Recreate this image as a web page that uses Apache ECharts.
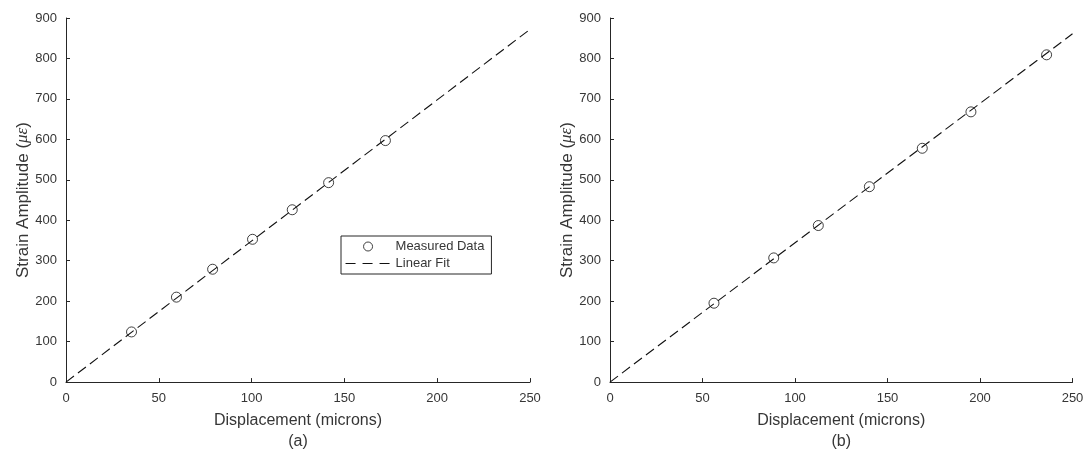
<!DOCTYPE html>
<html>
<head>
<meta charset="utf-8">
<script src="https://cdn.jsdelivr.net/npm/echarts@6/dist/echarts.min.js"></script>
<style>html,body{margin:0;padding:0;background:#fff}#c{width:1088px;height:457px}</style>
</head>
<body>
<div id="c"></div>
<script>
// Panel (a)
const measA_x = [35.3, 59.5, 79.0, 100.5, 121.9, 141.5, 172.1];
const measA_y = [124, 210, 279, 353, 426, 493, 597];
const fitA_x = [0, 250];
const fitA_y = [0, 872];
// Panel (b)
const measB_x = [56.2, 88.5, 112.6, 140.2, 168.8, 195.1, 236.0];
const measB_y = [195, 307, 387, 483, 578, 668, 809];
const fitB_x = [0, 250];
const fitB_y = [0, 861];
// Axis settings
const xTicks = [0, 50, 100, 150, 200, 250];
const yTicks = [0, 100, 200, 300, 400, 500, 600, 700, 800, 900];
const xTitle = 'Displacement (microns)';
const panelLabels = ['(a)', '(b)'];
const legendNames = ['Measured Data', 'Linear Fit'];

const zip = (a, b) => a.map((v, i) => [v, b[i]]);
const FONT = 'Liberation Sans, Arial, sans-serif';
const TXT = '#363636';
const AX = '#262626';

function xAxisFor(i) {
  return {
    type: 'value', gridIndex: i, min: xTicks[0], max: xTicks[xTicks.length - 1], interval: xTicks[1] - xTicks[0],
    name: xTitle + '\n{p|' + panelLabels[i] + '}',
    nameLocation: 'middle', nameGap: 26,
    nameTextStyle: { fontFamily: FONT, fontSize: 16, color: TXT, lineHeight: 21,
      rich: { p: { fontFamily: FONT, fontSize: 16, color: TXT, lineHeight: 21 } } },
    axisLine: { show: true, onZero: false, lineStyle: { color: AX, width: 1 } },
    axisTick: { show: true, inside: true, length: 4, lineStyle: { color: AX } },
    axisLabel: { fontFamily: FONT, fontSize: 13, color: TXT, margin: 10 },
    splitLine: { show: false }
  };
}
function yAxisFor(i) {
  return {
    type: 'value', gridIndex: i, min: yTicks[0], max: yTicks[yTicks.length - 1], interval: yTicks[1] - yTicks[0],
    name: 'Strain Amplitude ({m|με})',
    nameLocation: 'middle', nameGap: 34,
    nameTextStyle: { fontFamily: FONT, fontSize: 17, color: TXT,
      rich: { m: { fontFamily: 'Liberation Serif, DejaVu Serif, serif', fontStyle: 'italic', fontSize: 17, color: TXT } } },
    axisLine: { show: true, onZero: false, lineStyle: { color: AX, width: 1 } },
    axisTick: { show: true, inside: true, length: 4, lineStyle: { color: AX } },
    axisLabel: { fontFamily: FONT, fontSize: 13, color: TXT, margin: 9 },
    splitLine: { show: false }
  };
}
function scatter(i, xs, ys, withName) {
  return {
    type: 'scatter', name: withName ? legendNames[0] : 'm' + i, xAxisIndex: i, yAxisIndex: i,
    data: zip(xs, ys), symbol: 'circle', symbolSize: 10,
    itemStyle: { color: 'rgba(0,0,0,0)', borderColor: '#111', borderWidth: 1 },
    z: 2, silent: true
  };
}
function fit(i, xs, ys, withName) {
  return {
    type: 'line', name: withName ? legendNames[1] : 'f' + i, xAxisIndex: i, yAxisIndex: i,
    data: zip(xs, ys), symbol: 'none', showSymbol: false,
    lineStyle: { color: '#111', width: 1.1, type: [10, 5] },
    itemStyle: { color: '#111' },
    z: 3, silent: true, animation: false
  };
}

const chart = echarts.init(document.getElementById('c'), null, { renderer: 'canvas' });
chart.setOption({
  animation: false,
  backgroundColor: '#fff',
  grid: [
    { left: 66, right: 558, top: 18, bottom: 69 },
    { left: 610, right: 15.5, top: 18, bottom: 69 }
  ],
  xAxis: [xAxisFor(0), xAxisFor(1)],
  yAxis: [yAxisFor(0), yAxisFor(1)],
  legend: {
    data: [
      { name: legendNames[0], icon: 'circle', itemStyle: { color: 'rgba(0,0,0,0)', borderColor: '#111', borderWidth: 1 } },
      { name: legendNames[1], itemStyle: { color: 'rgba(0,0,0,0)', borderColor: 'rgba(0,0,0,0)', borderWidth: 0, opacity: 0 },
        lineStyle: { color: '#111', width: 1.1, type: [10, 7] } }
    ],
    orient: 'vertical', left: 341, top: 236,
    itemWidth: 45, itemHeight: 9, itemGap: 4,
    padding: [4, 7, 4, 4],
    backgroundColor: '#fff', borderColor: AX, borderWidth: 1, borderRadius: 0,
    textStyle: { fontFamily: FONT, fontSize: 13, color: TXT },
    selectedMode: false
  },
  series: [
    scatter(0, measA_x, measA_y, true),
    fit(0, fitA_x, fitA_y, true),
    scatter(1, measB_x, measB_y, false),
    fit(1, fitB_x, fitB_y, false)
  ]
});
</script>
</body>
</html>
